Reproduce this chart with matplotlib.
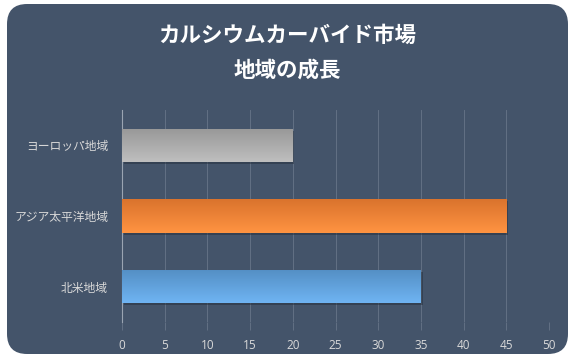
import numpy as np
import matplotlib
matplotlib.use("Agg")
import matplotlib.pyplot as plt
from matplotlib.patches import FancyBboxPatch
import matplotlib.patheffects as pe
from matplotlib.colors import to_rgb

plt.rcParams['font.family'] = ['Noto Sans CJK JP', 'DejaVu Sans']

TITLE = "カルシウムカーバイド市場\n地域の成長"
regions = ["北米地域", "アジア太平洋地域", "ヨーロッパ地域"]
growth = [35, 45, 20]
bar_colors = ["#5B9BD5", "#ED7D31", "#A5A5A5"]
x_ticks = list(range(0, 55, 5))

BG = "#44546A"

fig = plt.figure(figsize=(5.75, 3.59), dpi=100)
fig.patch.set_facecolor("white")

# rounded panel behind everything
panel = FancyBboxPatch((7 / 575, 5 / 359), 561 / 575, 350 / 359,
                       boxstyle="round,pad=0,rounding_size=0.035",
                       transform=fig.transFigure, facecolor=BG,
                       edgecolor="none", mutation_aspect=575 / 359, zorder=-10)
fig.patches.append(panel)

fig.text(0.5, 0.853, TITLE, ha="center", va="center", color="white",
         fontsize=15.5, fontweight="bold", linespacing=1.85)

ax = fig.add_axes([122 / 575, 37 / 359, 427 / 575, 212 / 359])
ax.set_facecolor("none")

y = np.arange(len(regions))
bars = ax.barh(y, growth, height=0.47, color=bar_colors, zorder=3)

# shading: vertical gradient over each bar + soft shadow
for b, c in zip(bars, bar_colors):
    r, g, bl = to_rgb(c)
    top = np.minimum(1, np.array([r, g, bl]) * 1.08 + 0.05)
    bot = np.array([r, g, bl]) * 0.92
    t = np.linspace(0, 1, 64)[:, None]
    grad = (top * (1 - t) + bot * t)[:, None, :]
    x0, y0 = b.get_x(), b.get_y()
    w, h = b.get_width(), b.get_height()
    im = ax.imshow(grad, extent=(x0, x0 + w, y0 + h, y0), aspect="auto",
                   zorder=4, interpolation="bilinear")
    im.set_clip_path(b)
    b.set_path_effects([pe.SimplePatchShadow(offset=(1.2, -1.5), shadow_rgbFace="#26303d", alpha=0.5),
                        pe.Normal()])

ax.set_xlim(0, 50)
ax.set_ylim(-0.5, len(regions) - 0.5)
ax.set_xticks(x_ticks)
ax.set_yticks(y)
ax.set_yticklabels(regions)
ax.grid(axis="x", color="#627084", linewidth=0.7, zorder=0)
for s in ["top", "right", "bottom"]:
    ax.spines[s].set_visible(False)
ax.spines["left"].set_color("#9AA4B2")
ax.spines["left"].set_linewidth(0.8)
ax.tick_params(axis="x", length=6, width=0.7, color="#627084", labelcolor="#D9D9D9",
               labelsize=8.5, pad=6)
ax.tick_params(axis="y", length=0, labelcolor="#D9D9D9", labelsize=8.5, pad=10)
for lbl in ax.get_xticklabels():
    lbl.set_family(["Open Sans", "DejaVu Sans"])

fig.savefig("out.png", dpi=100, facecolor="white")
